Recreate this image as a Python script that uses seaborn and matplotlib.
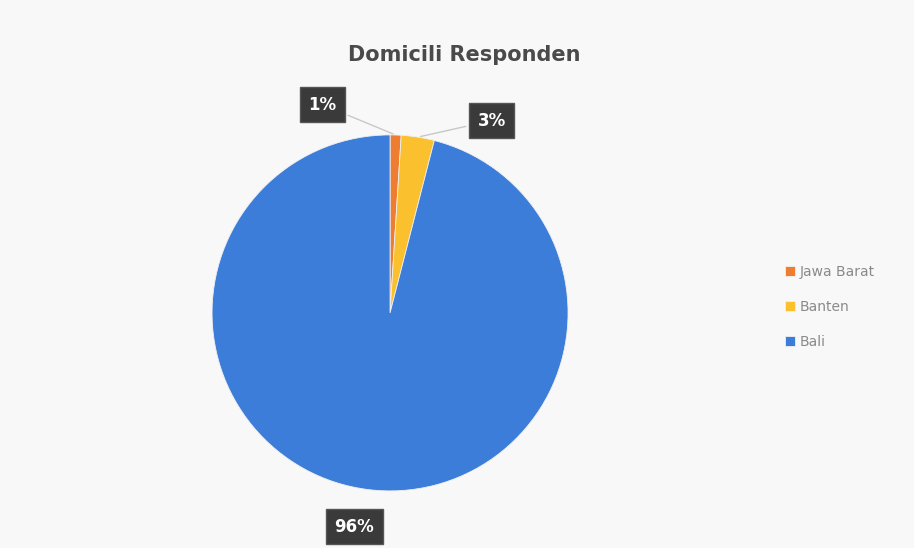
import numpy as np
import matplotlib
matplotlib.use("Agg")
import matplotlib.pyplot as plt
import seaborn as sns

# data
regions = ["Jawa Barat", "Banten", "Bali"]
shares = [1, 3, 96]
pct_labels = ["1%", "3%", "96%"]
colors = ["#ee7d31", "#fbc02d", "#3b7dd8"]

# where each percentage box sits, in pie units (radius = 1)
label_xy = [(-0.38, 1.17), (0.57, 1.08), (-0.20, -1.20)]

sns.set_theme(style="white")
plt.rcParams["font.family"] = ["DejaVu Sans"]

fig = plt.figure(figsize=(9.14, 5.48), dpi=100, facecolor="#f8f8f8")
ax = fig.add_axes([0.232, 0.104, 0.3895, 0.65])
ax.set_facecolor("#f8f8f8")

wedges, _ = ax.pie(
    shares, colors=colors, startangle=90, counterclock=False,
    wedgeprops={"linewidth": 0.6, "edgecolor": "#f0f0f0"},
)
ax.set_xlim(-1, 1)
ax.set_ylim(-1, 1)
ax.set_aspect("equal")

for w, txt, (tx, ty) in zip(wedges, pct_labels, label_xy):
    ang = np.deg2rad((w.theta1 + w.theta2) / 2)
    px, py = np.cos(ang), np.sin(ang)
    leader = txt != "96%"
    ax.annotate(
        txt, xy=(px, py), xytext=(tx, ty),
        ha="center", va="center", fontsize=12, fontweight="bold", color="white",
        bbox=dict(boxstyle="square,pad=0.5", fc="#3a3a3a", ec="#555555"),
        arrowprops=dict(arrowstyle="-", color="#c8c8c8", lw=1.0) if leader else None,
        annotation_clip=False,
    )

fig.text(0.508, 0.9, "Domicili Responden", ha="center", va="center",
         fontsize=15, fontweight="bold", color="#4a4a4a")

fig.legend(
    wedges, regions, loc="center left", bbox_to_anchor=(0.845, 0.44),
    frameon=False, fontsize=10, labelcolor="#8a8a8a",
    handlelength=0.7, handleheight=0.7, handletextpad=0.4, labelspacing=1.5,
)

fig.savefig("out.png", dpi=100, facecolor=fig.get_facecolor())
